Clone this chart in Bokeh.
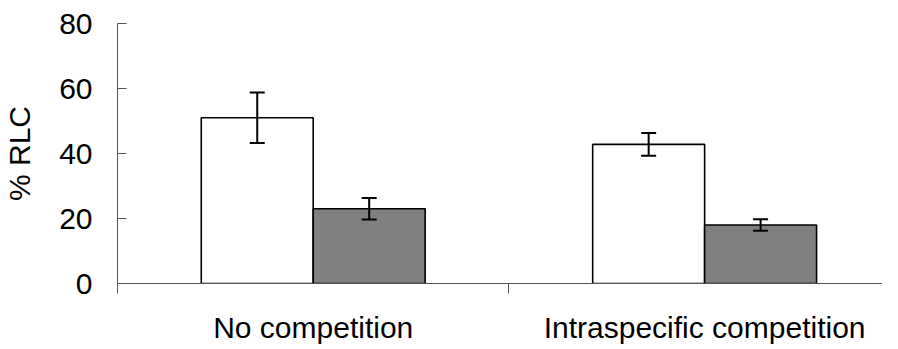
from bokeh.plotting import figure
from bokeh.models import Range1d, FixedTicker, Whisker, ColumnDataSource, TeeHead
from bokeh.transform import dodge
from bokeh.embed import file_html
from bokeh.resources import INLINE

categories = ["No competition", "Intraspecific competition"]
white_vals = [51.0, 42.8]
white_err = [7.8, 3.5]
grey_vals = [23.0, 18.0]
grey_err = [3.3, 1.8]
y_ticks = [0, 20, 40, 60, 80]
y_label = "% RLC"

centers = [i + 0.5 for i in range(len(categories))]
src = ColumnDataSource(dict(
    x=centers,
    w=white_vals,
    w_up=[v + e for v, e in zip(white_vals, white_err)],
    w_lo=[v - e for v, e in zip(white_vals, white_err)],
    g=grey_vals,
    g_up=[v + e for v, e in zip(grey_vals, grey_err)],
    g_lo=[v - e for v, e in zip(grey_vals, grey_err)],
))

FONT = "Liberation Sans"
BW = 0.286

p = figure(width=882, height=346, output_backend="svg", toolbar_location=None,
           x_range=Range1d(0, 772 / 395), y_range=Range1d(0, 80),
           min_border_left=110, min_border_right=0, min_border_top=23,
           min_border_bottom=60)
p.outline_line_color = None
p.grid.visible = False
p.background_fill_color = "white"

p.vbar(x=dodge("x", -BW / 2, range=p.x_range), top="w", width=BW, source=src,
       fill_color="white", line_color="black", line_width=1.6)
p.vbar(x=dodge("x", BW / 2, range=p.x_range), top="g", width=BW, source=src,
       fill_color="#808080", line_color="black", line_width=1.6)

for key, off in (("w", -BW / 2), ("g", BW / 2)):
    wk = Whisker(source=src, base=dodge("x", off, range=p.x_range),
                 upper=key + "_up", lower=key + "_lo",
                 line_color="black", line_width=2, level="overlay",
                 upper_head=TeeHead(size=15, line_color="black", line_width=2),
                 lower_head=TeeHead(size=15, line_color="black", line_width=2))
    p.add_layout(wk)

# y axis
p.yaxis.ticker = FixedTicker(ticks=y_ticks)
p.yaxis.major_tick_in = 9
p.yaxis.major_tick_out = 0
p.yaxis.minor_tick_line_color = None
p.yaxis.axis_line_color = "#555555"
p.yaxis.major_tick_line_color = "#555555"
p.yaxis.major_label_text_font = FONT
p.yaxis.major_label_text_font_size = "30px"
p.yaxis.major_label_text_color = "black"
p.yaxis.major_label_standoff = 25
p.yaxis.axis_label = y_label
p.yaxis.axis_label_text_font = FONT
p.yaxis.axis_label_text_font_size = "30px"
p.yaxis.axis_label_text_font_style = "normal"
p.yaxis.axis_label_text_color = "black"
p.yaxis.axis_label_standoff = 20

# x axis: labels at centers, tick marks at category boundaries
bounds = list(range(len(categories) + 1))
p.xaxis.ticker = FixedTicker(ticks=centers, minor_ticks=bounds)
p.xaxis.major_label_overrides = {c: lab for c, lab in zip(centers, categories)}
p.xaxis.major_tick_in = 0
p.xaxis.major_tick_out = 0
p.xaxis.minor_tick_in = 0
p.xaxis.minor_tick_out = 10
p.xaxis.minor_tick_line_color = "#555555"
p.xaxis.axis_line_color = "#555555"
p.xaxis.major_label_text_font = FONT
p.xaxis.major_label_text_font_size = "30px"
p.xaxis.major_label_text_color = "black"
p.xaxis.major_label_text_line_height = 1.0
p.xaxis.major_label_standoff = 17

open("out.html", "w").write(file_html(p, INLINE))
